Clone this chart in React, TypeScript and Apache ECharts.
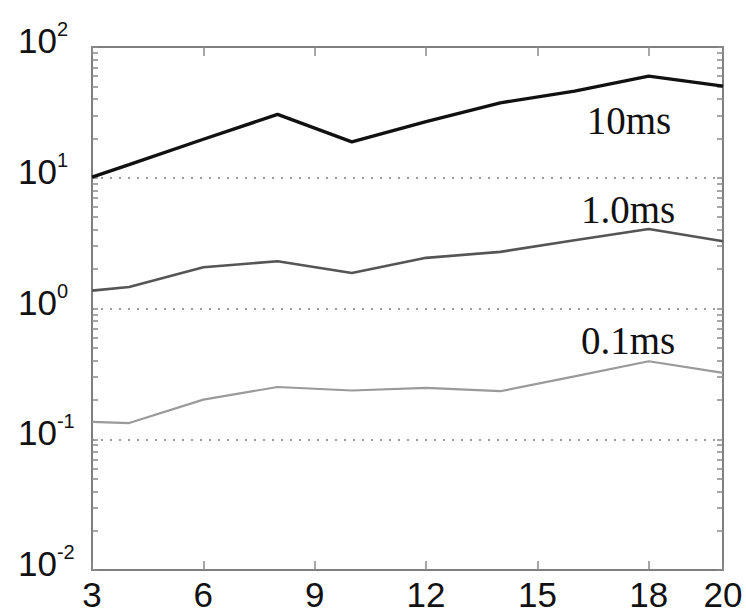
import React, { useEffect, useRef } from "react";
import * as echarts from "echarts";

const xValues = [3, 4, 6, 8, 10, 12, 14, 16, 18, 20];
const series10ms = [10.1, 12.6, 19.7, 30.5, 18.8, 26.9, 37.4, 46.0, 59.9, 50.2];
const series1ms = [1.37, 1.46, 2.07, 2.3, 1.87, 2.44, 2.71, 3.33, 4.06, 3.27];
const series01ms = [0.136, 0.133, 0.201, 0.251, 0.236, 0.247, 0.233, 0.303, 0.395, 0.322];
const seriesNames = ["10ms", "1.0ms", "0.1ms"];
const seriesColors = ["#111111", "#555555", "#9a9a9a"];
const seriesWidths = [3.4, 2.6, 2.2];
const decadeExponents = [-2, -1, 0, 1, 2];

const minorTicks: number[] = [];
for (let e = -2; e < 2; e++) {
  for (let m = 1; m < 10; m++) minorTicks.push(parseFloat((m * Math.pow(10, e)).toPrecision(3)));
}
minorTicks.push(100);

const axisColor = "#7f7f7f";
const labelFont = "'Liberation Sans', Arial, Helvetica, sans-serif";
const serifFont = "'Liberation Serif', 'Times New Roman', serif";

export default function App() {
  const ref = useRef<HTMLDivElement>(null);
  useEffect(() => {
    document.body.style.margin = "0";
    if (!ref.current) return;
    const chart = echarts.init(ref.current, null, { renderer: "svg" });
    const allSeries = [series10ms, series1ms, series01ms];
    const yLabel = (v: number) => {
      const e = Math.round(Math.log10(v));
      return decadeExponents.includes(e) ? `{b|10}{s|${e}}` : "";
    };
    const commonAxisLine = { show: true, lineStyle: { color: axisColor, width: 2 } };
    const tickAxis = (position: string) => ({
      type: "log",
      logBase: 10,
      min: 0.01,
      max: 100,
      position,
      axisLine: commonAxisLine,
      axisTick: { show: true, inside: true, length: 6, customValues: minorTicks, lineStyle: { color: "#8a8a8a", width: 1.5 } },
      axisLabel: { show: false },
      splitLine: { show: false },
    });
    chart.setOption({
      animation: false,
      backgroundColor: "#ffffff",
      grid: { left: 92, right: 23, top: 47, bottom: 43, containLabel: false },
      xAxis: [
        {
          type: "value",
          min: 3,
          max: 20,
          interval: 3,
          position: "bottom",
          axisLine: commonAxisLine,
          axisTick: { show: true, inside: true, length: 9, lineStyle: { color: "#8a8a8a", width: 1.5 } },
          axisLabel: { fontSize: 35, fontFamily: labelFont, color: "#111", margin: 7 },
          splitLine: { show: false },
        },
        {
          type: "value",
          min: 3,
          max: 20,
          interval: 3,
          position: "top",
          axisLine: commonAxisLine,
          axisTick: { show: true, inside: true, length: 9, lineStyle: { color: "#8a8a8a", width: 1.5 } },
          axisLabel: { show: false },
          splitLine: { show: false },
        },
      ],
      yAxis: [
        {
          type: "log",
          logBase: 10,
          min: 0.01,
          max: 100,
          position: "left",
          axisLine: commonAxisLine,
          axisTick: { show: false },
          axisLabel: {
            formatter: yLabel,
            align: "left",
            margin: 74,
            padding: [0, 0, 17, 0],
            rich: {
              b: { fontSize: 35, fontFamily: labelFont, color: "#111", lineHeight: 39, verticalAlign: "bottom" },
              s: { fontSize: 20, fontFamily: labelFont, color: "#111", verticalAlign: "top" },
            },
          },
          splitLine: { show: true, lineStyle: { color: "#9c9c9c", type: [2, 7], width: 2 } },
        },
        tickAxis("left"),
        tickAxis("right"),
      ],
      series: allSeries.map((vals, i) => ({
        name: seriesNames[i],
        type: "line",
        xAxisIndex: 0,
        yAxisIndex: 0,
        showSymbol: false,
        data: xValues.map((x, j) => [x, vals[j]]),
        lineStyle: { color: seriesColors[i], width: seriesWidths[i] },
        itemStyle: { color: seriesColors[i] },
        z: 5 - i,
      })),
      graphic: [
        { type: "text", x: 629, y: 120, style: { text: seriesNames[0], fontSize: 39, fontFamily: serifFont, fill: "#111", align: "center", verticalAlign: "middle" } },
        { type: "text", x: 628, y: 209, style: { text: seriesNames[1], fontSize: 39, fontFamily: serifFont, fill: "#111", align: "center", verticalAlign: "middle" } },
        { type: "text", x: 628, y: 340, style: { text: seriesNames[2], fontSize: 39, fontFamily: serifFont, fill: "#111", align: "center", verticalAlign: "middle" } },
      ],
    });
    return () => chart.dispose();
  }, []);
  return <div ref={ref} style={{ width: 746, height: 613 }} />;
}
